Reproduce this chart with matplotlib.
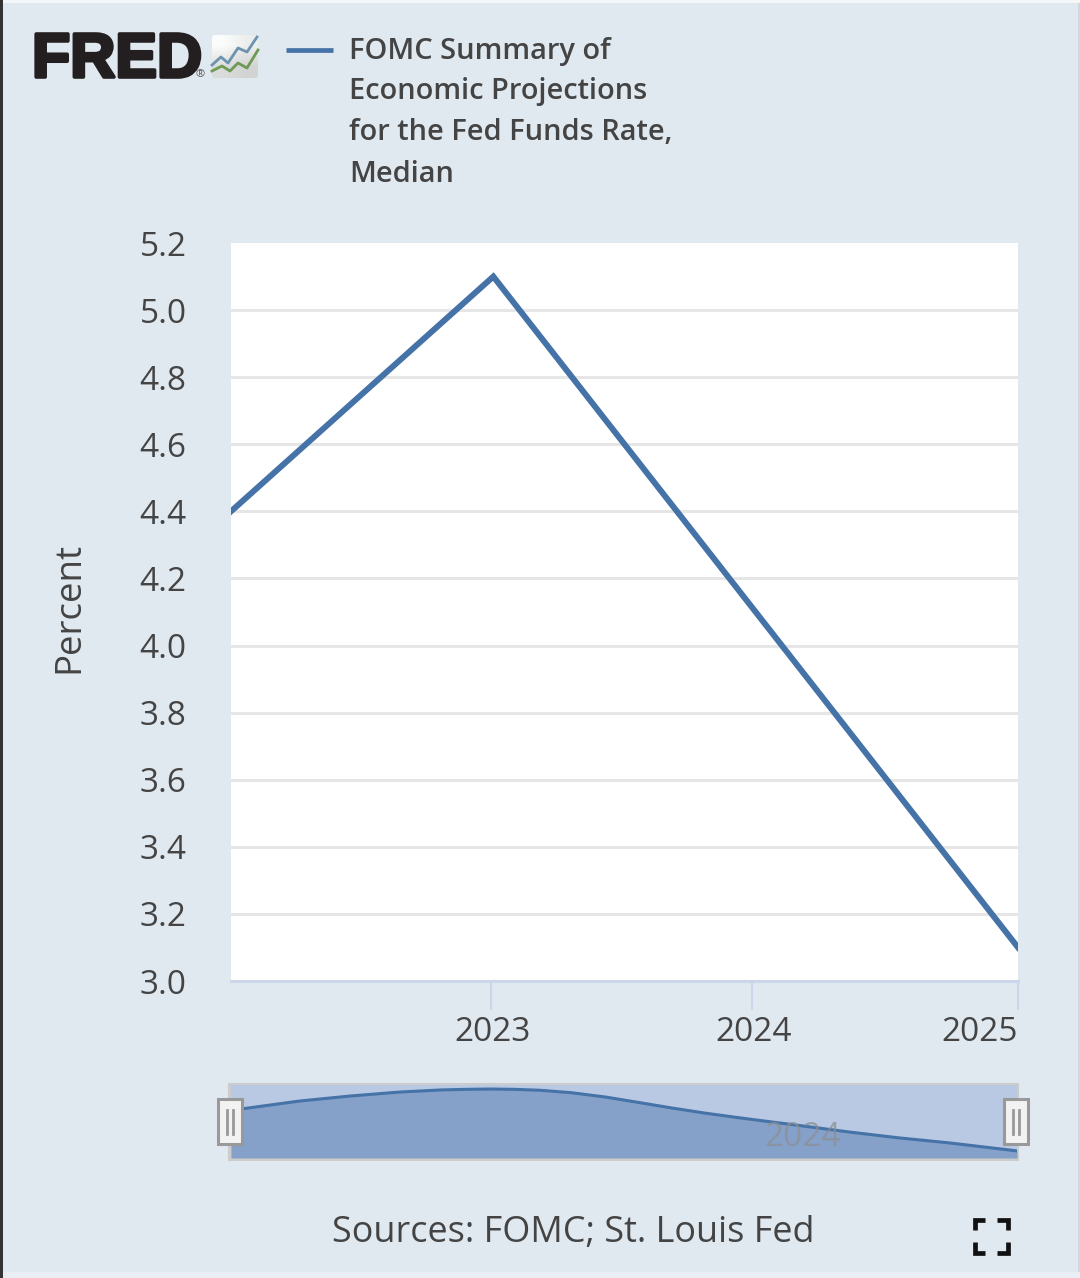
import numpy as np
import matplotlib.pyplot as plt
import matplotlib.patheffects as pe
from matplotlib.colors import LinearSegmentedColormap
from matplotlib.patches import Rectangle, FancyBboxPatch
from matplotlib.transforms import ScaledTranslation

plt.rcParams['font.family'] = ['Open Sans', 'DejaVu Sans']

W, H = 1080, 1278

# Chart data
years = [2022, 2023, 2024, 2025]
median_rate = [4.4, 5.1, 4.1, 3.1]
y_ticks = [3.0, 3.2, 3.4, 3.6, 3.8, 4.0, 4.2, 4.4, 4.6, 4.8, 5.0, 5.2]
x_ticks = [2022.99, 2023.985, 2025]
x_tick_labels = ['2023', '2024', '2025']

# Navigator curve
nav_years = [2022.0, 2022.26, 2022.45, 2022.64, 2022.80, 2022.90, 2022.99, 2023.08, 2023.18,
             2023.30, 2023.43, 2023.56, 2023.68, 2023.81, 2023.94, 2024.05, 2024.17,
             2024.36, 2024.55, 2024.74, 2025.0]
nav_values = [4.41, 4.71, 4.87, 5.0, 5.07, 5.09, 5.10, 5.09, 5.06,
              4.98, 4.84, 4.66, 4.49, 4.32, 4.17, 4.05, 3.92,
              3.71, 3.52, 3.36, 3.10]

legend_lines = ['FOMC Summary of', 'Economic Projections', 'for the Fed Funds Rate,', 'Median']

BG = '#e1e9f0'
LINE = '#4572a7'
TEXT = '#444444'
AXIS = '#ccd6eb'


def axes_px(fig, left, top, right, bottom):
    return fig.add_axes([left / W, 1 - bottom / H, (right - left) / W, (bottom - top) / H])


fig = plt.figure(figsize=(W / 100, H / 100), dpi=100, facecolor=BG)

# Overlay in pixel coordinates for the page furniture
page = fig.add_axes([0, 0, 1, 1], zorder=0)
page.add_patch(Rectangle((0, 0), 3, H, color='#333333', lw=0))
page.add_patch(Rectangle((3, 0), W, 3, color='#f4f6f8', lw=0))
page.add_patch(Rectangle((1078, 3), 2, H, color='#d2d8de', lw=0))
page.add_patch(Rectangle((3, 1272), W, 6, color='#e8eef3', lw=0))

# Logo
page.text(32, 77, 'FRED', fontsize=45, fontweight='bold', family='Liberation Sans',
          color='#231f20', ha='left', va='baseline',
          path_effects=[pe.withStroke(linewidth=2.6, foreground='#231f20')])
page.text(200, 75, '®', fontsize=8, color='#555555', ha='center', va='center')
icon_box = FancyBboxPatch((212, 35), 46, 43, boxstyle='round,pad=0,rounding_size=3',
                          fc='none', ec='none')
page.add_patch(icon_box)
icon_cmap = LinearSegmentedColormap.from_list('icon', ['#fbfcfc', '#d2d4d3'])
icon_img = page.imshow([[0.0, 0.35], [0.8, 1.0]], cmap=icon_cmap, extent=(212, 258, 78, 35),
                       interpolation='bilinear', aspect='auto')
icon_img.set_clip_path(icon_box)
page.plot([212, 221, 228, 238, 247, 257], [65, 57, 63, 48, 52, 37], color='#6d93ae', lw=2)
page.plot([212, 222, 230, 238, 247, 258], [71, 66, 71, 63, 68, 50], color='#6f9a55', lw=2)

# Legend
page.plot([286, 333], [50, 50], color=LINE, lw=3.4, solid_capstyle='butt')
for i, s in enumerate(legend_lines):
    page.text(349, 51 + i * 41, s, fontsize=20.9, fontweight=600, color=TEXT,
              ha='left', va='center')

page.set_xlim(0, W)
page.set_ylim(H, 0)
page.axis('off')

# Main chart
ax = axes_px(fig, 231, 243, 1018, 981)
ax.set_zorder(1)
ax.set_facecolor('white')
ax.plot(years, median_rate, color=LINE, lw=4.3, solid_joinstyle='miter')
ax.set_xlim(2022, 2025)
ax.set_ylim(3.0, 5.2)
ax.set_yticks(y_ticks)
ax.set_yticklabels([f'{v:.1f}' for v in y_ticks])
ax.set_xticks(x_ticks)
ax.set_xticklabels(x_tick_labels)
ax.grid(axis='y', color='#e6e6e6', lw=2.2)
ax.get_ygridlines()[-1].set_visible(False)
ax.set_axisbelow(True)
for name in ['top', 'right', 'left']:
    ax.spines[name].set_visible(False)
ax.spines['bottom'].set_color(AXIS)
ax.spines['bottom'].set_linewidth(2.2)
ax.tick_params(axis='y', length=0, pad=32, labelsize=24, labelcolor=TEXT)
ax.tick_params(axis='x', length=21, width=1.5, color=AXIS, pad=4.3, labelsize=24, labelcolor=TEXT)
tick_labels = ax.get_xticklabels()
tick_labels[2].set_ha('right')
for lab in tick_labels[:2]:
    lab.set_transform(lab.get_transform() + ScaledTranslation(2 / 100, 0, fig.dpi_scale_trans))
ax.set_ylabel('Percent', fontsize=26.4, color=TEXT)
ax.yaxis.set_label_coords(-144 / 787, 0.506)

# Navigator
page.add_patch(Rectangle((229, 1084), 788, 75, fc='none', ec='#cccccc', lw=2.2, zorder=1))
nav = axes_px(fig, 231, 1085, 1017, 1158)
nav.set_zorder(2)
nav.set_facecolor('#b9c9e3')
nav.fill_between(nav_years, nav_values, 2.87, color='#85a1c9', lw=0)
nav.plot(nav_years, nav_values, color=LINE, lw=2.2)
nav.set_xlim(2022, 2025)
nav.set_ylim(2.87, 5.23)
nav.set_xticks([])
nav.set_yticks([])
for s in nav.spines.values():
    s.set_visible(False)

# Top overlay: handles, ghost label and fullscreen icon
top = fig.add_axes([0, 0, 1, 1], zorder=3)
top.set_xlim(0, W)
top.set_ylim(H, 0)
top.axis('off')
top.text(803, 1137, '2024', fontsize=24, color='#8b8f96', alpha=0.75, ha='center', va='center')
for x0 in [218, 1004]:
    top.add_patch(Rectangle((x0, 1099), 24, 45, fc='#f2f2f2', ec='#999999', lw=2.2))
    top.plot([x0 + 9, x0 + 9], [1110, 1134], color='#999999', lw=2)
    top.plot([x0 + 15, x0 + 15], [1110, 1134], color='#999999', lw=2)

ICON = '#111111'
for cx, cy, dx, dy in [(974.5, 1219.5, 1, 1), (1007.5, 1219.5, -1, 1),
                       (974.5, 1252.5, 1, -1), (1007.5, 1252.5, -1, -1)]:
    top.plot([cx + 10.5 * dx, cx, cx], [cy, cy, cy + 10.5 * dy], color=ICON, lw=3.4,
             solid_joinstyle='miter', solid_capstyle='butt')

top.text(573, 1233, 'Sources: FOMC; St. Louis Fed', fontsize=25.9, color=TEXT, ha='center', va='center')

fig.savefig('out.png', dpi=100, facecolor=BG)
